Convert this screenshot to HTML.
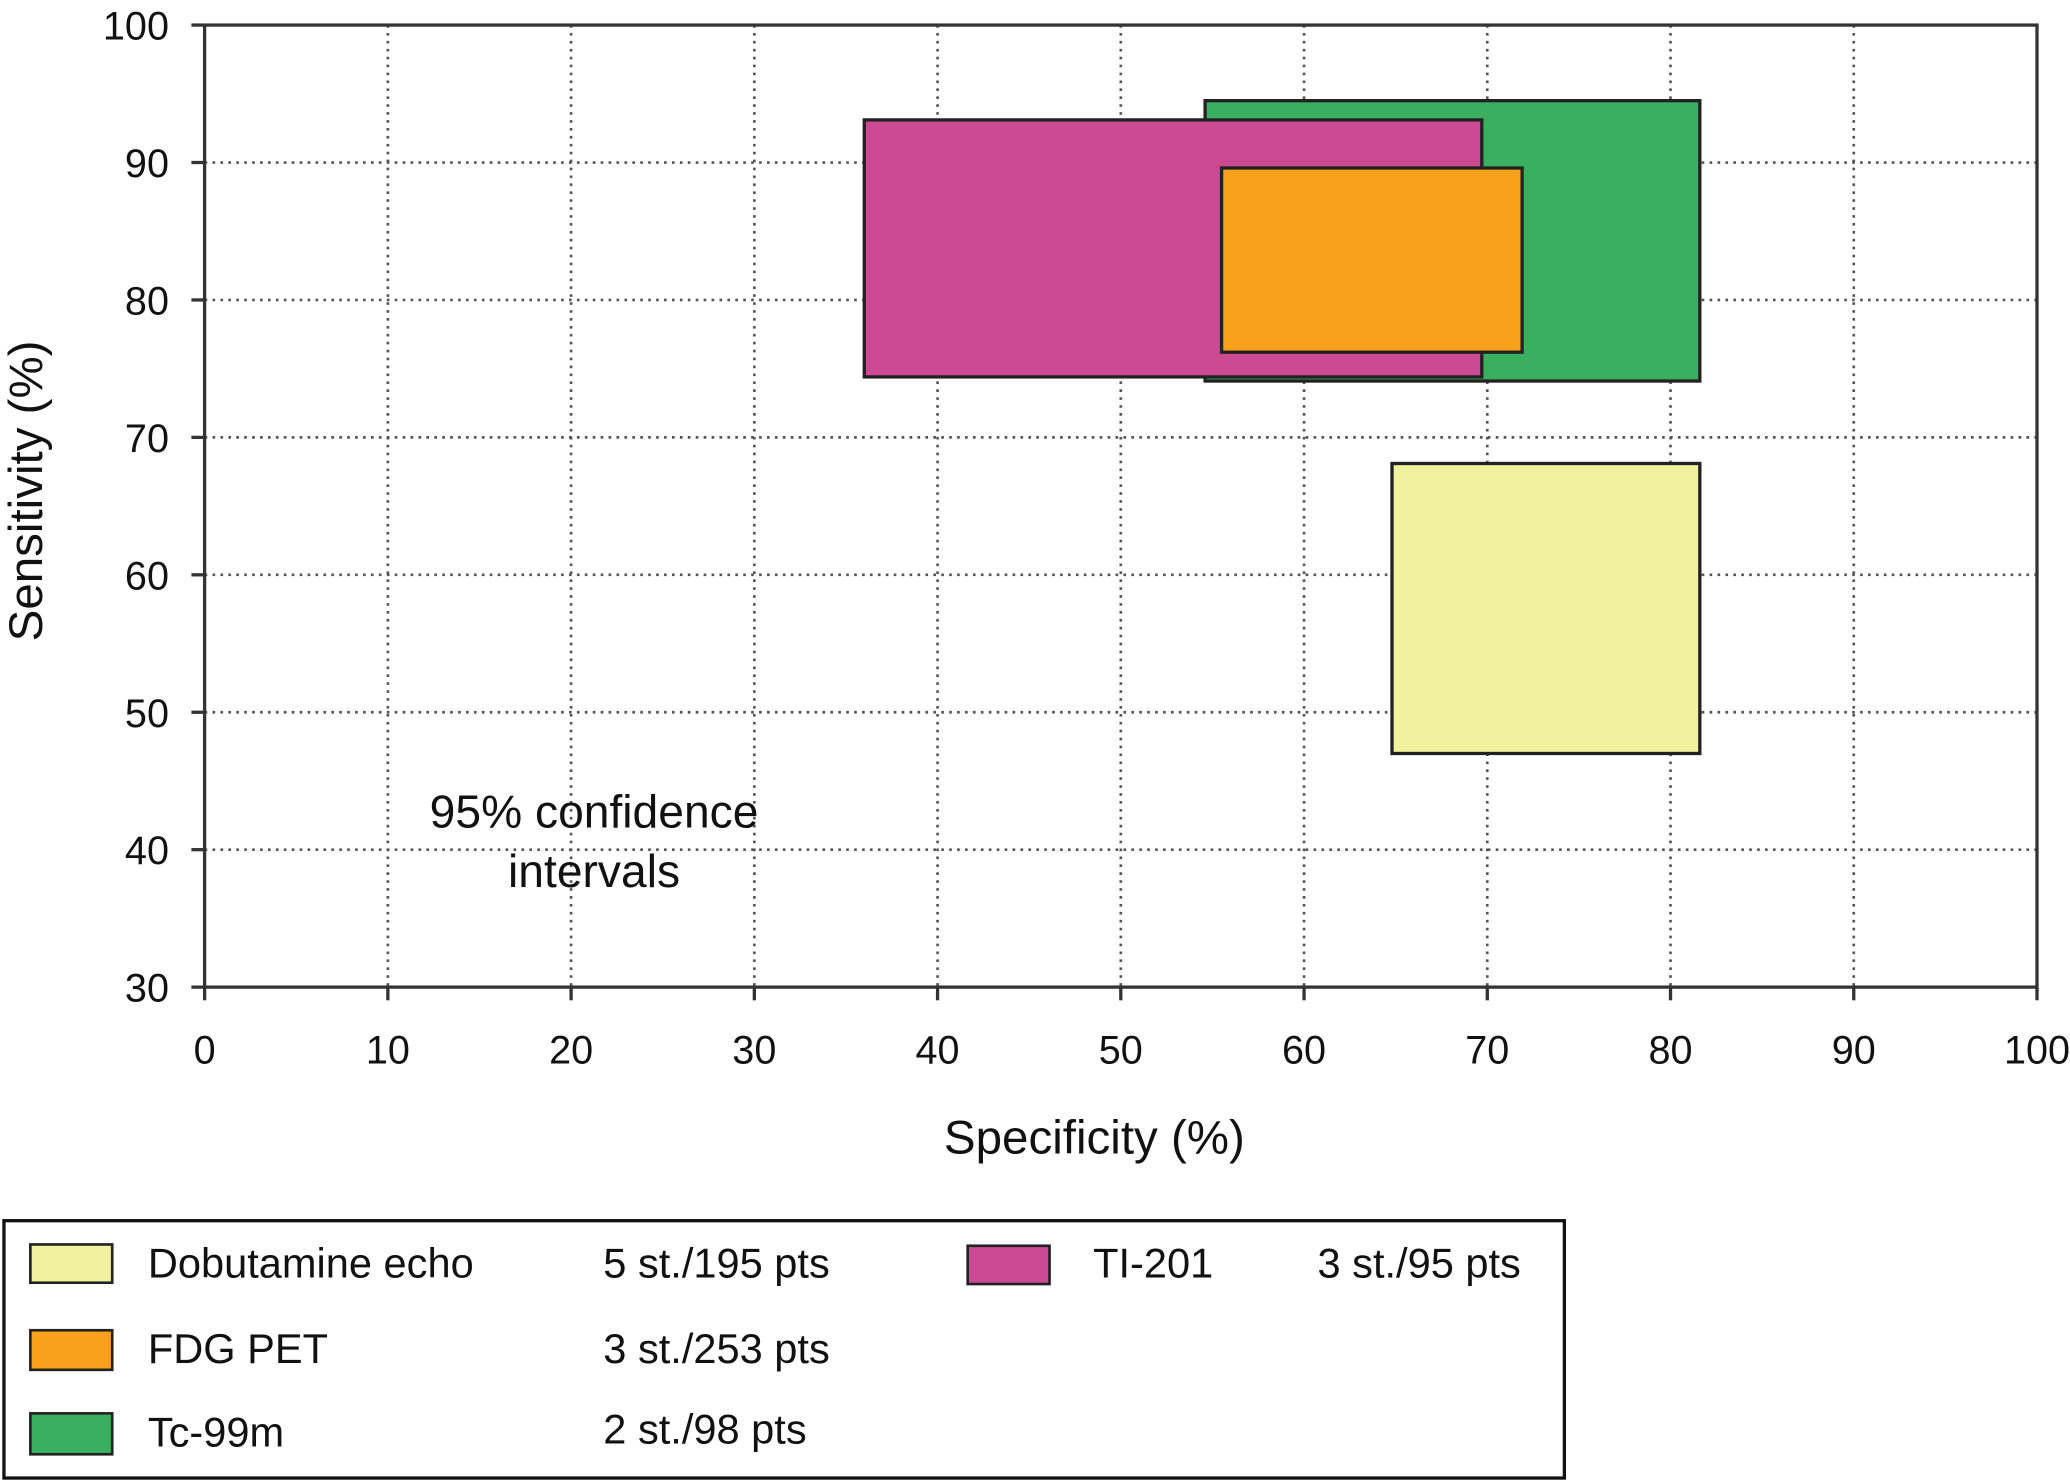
<!DOCTYPE html>
<html><head><meta charset="utf-8"><style>
html,body{margin:0;padding:0;background:#fff}
svg{display:block}
text{font-family:"Liberation Sans",sans-serif;fill:#111}
</style></head><body>
<svg id="chart" width="2070" height="1482" viewBox="0 0 1568 1123" preserveAspectRatio="none" xmlns="http://www.w3.org/2000/svg">
<g id="grid"></g>
<g id="boxes"></g>
<g id="axes"></g>
<text x="0" y="0" font-size="36" text-anchor="middle" transform="translate(32,372) rotate(-90)">Sensitivity (%)</text>
<text x="829" y="874" font-size="36" text-anchor="middle">Specificity (%)</text>
<text x="450" y="627" font-size="35" text-anchor="middle">95% confidence</text>
<text x="450" y="672" font-size="35" text-anchor="middle">intervals</text>
<g>
<rect x="3" y="925" width="1182" height="195" fill="none" stroke="#111" stroke-width="2.5"/>
<rect x="23" y="943" width="62" height="29" fill="#f0f2a0" stroke="#222" stroke-width="2"/>
<rect x="23" y="1008" width="62" height="30" fill="#f9a11b" stroke="#222" stroke-width="2"/>
<rect x="23" y="1071" width="62" height="31" fill="#3aaf5f" stroke="#222" stroke-width="2"/>
<rect x="733" y="944" width="62" height="29" fill="#cc4a94" stroke="#222" stroke-width="2"/>
<text x="112" y="968" font-size="31.5">Dobutamine echo</text>
<text x="457" y="968" font-size="31.5">5 st./195 pts</text>
<text x="112" y="1033" font-size="31.5">FDG PET</text>
<text x="457" y="1033" font-size="31.5">3 st./253 pts</text>
<text x="112" y="1096" font-size="31.5">Tc-99m</text>
<text x="457" y="1094" font-size="31.5">2 st./98 pts</text>
<text x="828" y="968" font-size="31.5">TI-201</text>
<text x="998" y="968" font-size="31.5">3 st./95 pts</text>
</g>
</svg>
<script>
const xTicks=[0,10,20,30,40,50,60,70,80,90,100];
const yTicks=[30,40,50,60,70,80,90,100];
const seriesNames=["Tc-99m","TI-201","FDG PET","Dobutamine echo"];
const specLow=[54.6,36.0,55.5,64.8];
const specHigh=[81.6,69.7,71.9,81.6];
const sensLow=[74.1,74.4,76.2,47.0];
const sensHigh=[94.5,93.1,89.6,68.1];
const colors=["#3aaf5f","#cc4a94","#f9a11b","#f0f2a0"];
const L=155,R=1543,T=19,B=748;
const sx=v=>L+(v-0)/(100-0)*(R-L);
const sy=v=>B-(v-30)/(100-30)*(B-T);
const NS="http://www.w3.org/2000/svg";
function mk(tag,attrs,parent){const e=document.createElementNS(NS,tag);for(const k in attrs)e.setAttribute(k,attrs[k]);parent.appendChild(e);return e;}
const grid=document.getElementById('grid'),axes=document.getElementById('axes'),boxes=document.getElementById('boxes');
xTicks.forEach(t=>{
  if(t>0&&t<100){const l=mk('line',{x1:sx(t),x2:sx(t),y1:T,y2:B,stroke:'#555','stroke-width':2,'stroke-dasharray':'2 4'},grid);
  
  }
  const tk=mk('line',{x1:sx(t),x2:sx(t),y1:B,y2:B+10,stroke:'#333','stroke-width':2.5},axes);
  
  
  const tx=mk('text',{x:sx(t),y:B+58,'font-size':30,'text-anchor':'middle'},axes);tx.textContent=t;
  
  
});
yTicks.forEach(t=>{
  if(t>30&&t<100){const l=mk('line',{x1:L,x2:R,y1:sy(t),y2:sy(t),stroke:'#555','stroke-width':2,'stroke-dasharray':'2 4'},grid);
  
  }
  const tk=mk('line',{x1:L-10,x2:L,y1:sy(t),y2:sy(t),stroke:'#333','stroke-width':2.5},axes);
  
  
  const tx=mk('text',{x:L-27,y:sy(t)+11,'font-size':30,'text-anchor':'end'},axes);tx.textContent=t;
  
  
});
const frame=mk('rect',{x:L,y:T,width:R-L,height:B-T,fill:'none',stroke:'#333','stroke-width':2.5},axes);


seriesNames.forEach((n,i)=>{
  const r=mk('rect',{x:sx(specLow[i]),y:sy(sensHigh[i]),width:sx(specHigh[i])-sx(specLow[i]),height:sy(sensLow[i])-sy(sensHigh[i]),fill:colors[i],stroke:'#222','stroke-width':2.5},boxes);
  
  
});
</script>
</body></html>
